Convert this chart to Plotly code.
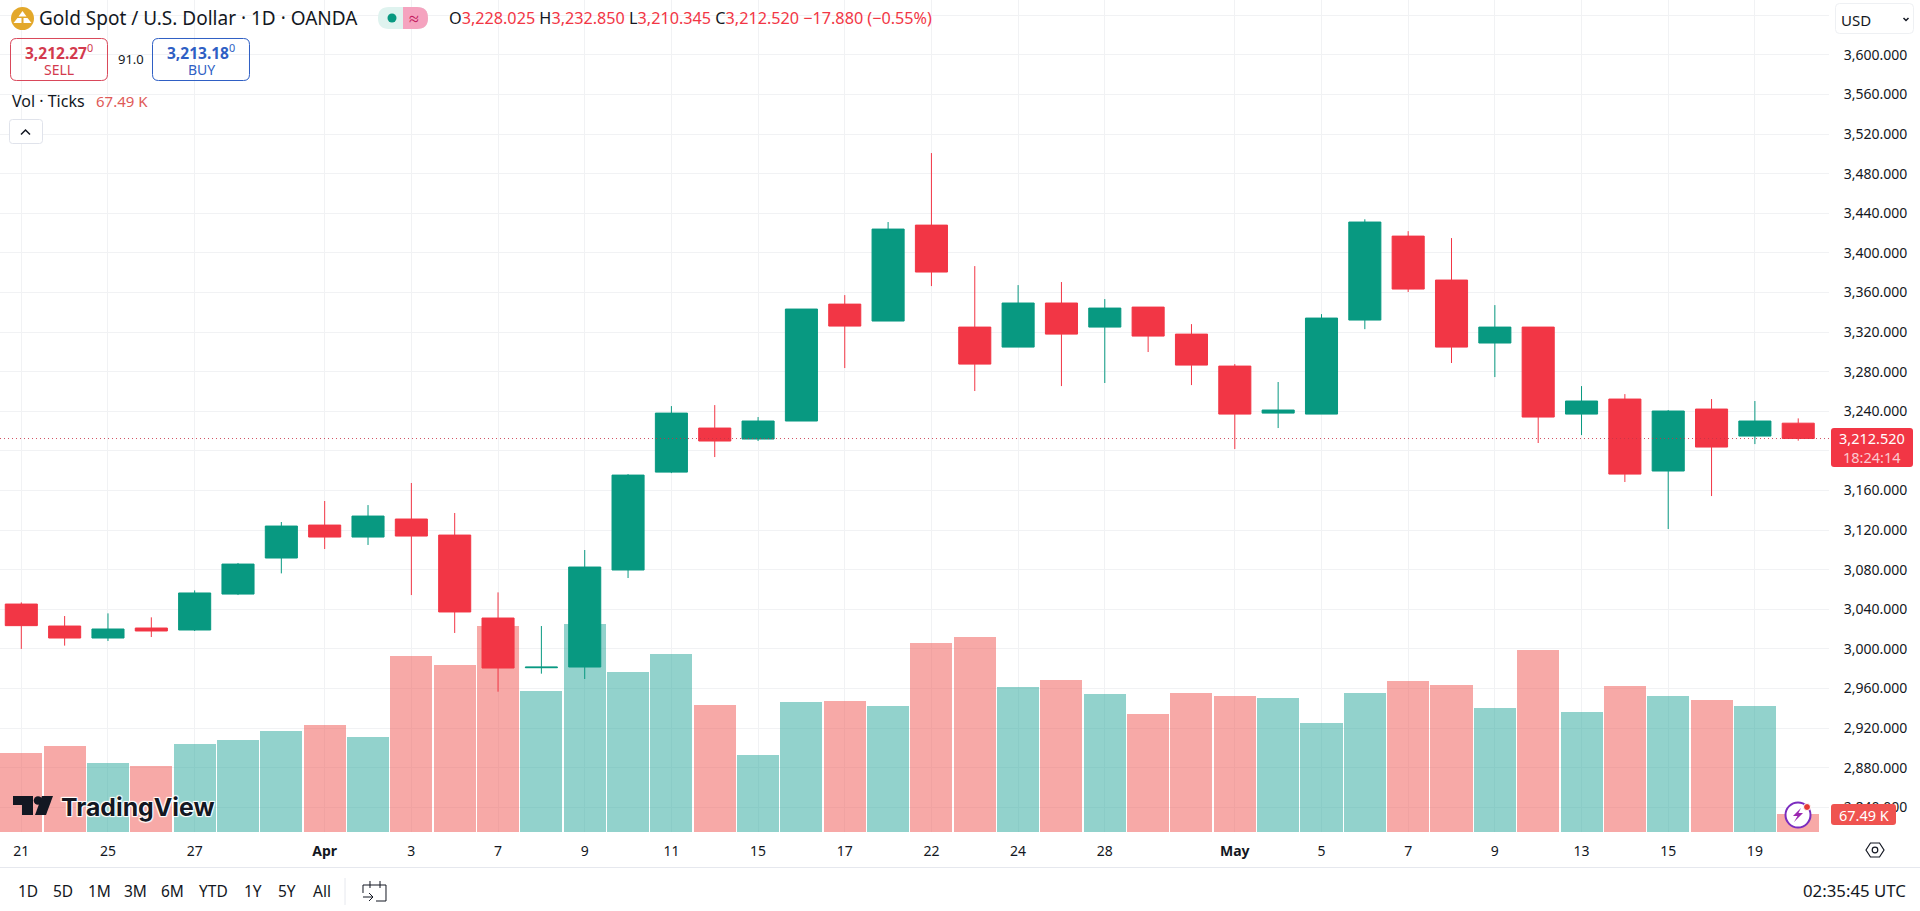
import re
import plotly.graph_objects as go

# ---------- data ----------
dates = ["Mar 21","Mar 24","Mar 25","Mar 26","Mar 27","Mar 28","Mar 31","Apr 1","Apr 2","Apr 3","Apr 4",
         "Apr 7","Apr 8","Apr 9","Apr 10","Apr 11","Apr 14","Apr 15","Apr 16","Apr 17","Apr 21","Apr 22",
         "Apr 23","Apr 24","Apr 25","Apr 28","Apr 29","Apr 30","May 1","May 2","May 5","May 6","May 7",
         "May 8","May 9","May 12","May 13","May 14","May 15","May 16","May 19","May 20"]
opens = [3045.3,3023.1,3011,3021.1,3019.1,3055.4,3091.8,3125.1,3113,3131.2,3115,3031.2,2981,2981.7,3079.7,
         3178.6,3223.1,3212,3230.2,3348.3,3331.2,3428.1,3325.1,3304.9,3349.4,3325.1,3345.3,3318,3285.7,
         3238.2,3237.2,3332.2,3417,3372.6,3309,3325.1,3237.2,3252.4,3179.7,3242.3,3215,3228.025]
highs = [3047,3033.2,3035.9,3031.9,3059.1,3086.8,3128.2,3149.4,3145.3,3167.6,3137.3,3057.1,3023.1,3099.9,
         3176.6,3245.3,3246.3,3234.2,3343.3,3357.4,3431.2,3500.9,3386.7,3367.5,3370.6,3353.4,3345.3,3328.1,
         3287.7,3269.6,3338.2,3434,3422,3415,3347.3,3325.1,3265.5,3257.4,3241.3,3252.4,3250.4,3232.85]
lows = [3000,3003.3,3008,3012,3018.1,3054.4,3076.3,3100.9,3105,3054.4,3016.1,2956.8,2975,2969.6,3071.6,
        3177.6,3193.8,3210,3230.2,3283.7,3331.2,3366.5,3260.5,3304.9,3265.5,3268.6,3299.9,3266.5,3201.9,
        3223.1,3237.2,3323,3360.5,3288.8,3274.6,3208,3216,3168.6,3121.1,3154.4,3206.9,3210.345]
closes = [3023.5,3011,3020.1,3018.1,3056.5,3085.7,3124.1,3113,3134.2,3114,3037.3,2980.7,2981.6,3082.7,3175.6,
          3238.2,3210,3230.2,3343.3,3326.1,3424.1,3380.7,3287.7,3349.4,3318,3344.3,3316,3286.7,3237.2,
          3241.3,3334.2,3431.2,3363.5,3304.9,3325.1,3234.2,3250.4,3176.6,3240.3,3203.9,3230.2,3212.52]
volumes_k = [298,321,257,248,331,344,377,400,358,660,626,773,529,780,600,667,478,289,487,491,473,709,731,
             542,569,519,441,523,510,501,409,523,565,551,464,684,450,546,510,496,473,67.49]
price_ticks = [2840+40*i for i in range(21)]
price_labels = ["" if p in (3640, 3200) else f"{p:,.3f}" for p in price_ticks]
date_tick_vals = ["Mar 21","Mar 25","Mar 27","Apr 1","Apr 3","Apr 7","Apr 9","Apr 11","Apr 15","Apr 17","Apr 22",
                  "Apr 24","Apr 28","May 1","May 5","May 7","May 9","May 13","May 15","May 19"]
date_tick_text = ["21","25","27","<b>Apr</b>","3","7","9","11","15","17","22","24","28","<b>May</b>","5","7","9","13","15","19"]
range_buttons = ["1D","5D","1M","3M","6M","YTD","1Y","5Y","All"]
range_button_x = [28,63,99,135,172,213,253,287,322]
last_price = closes[-1]

# ---------- style ----------
UP, DOWN = "#089981", "#F23645"
VUP, VDOWN = "rgba(38,166,154,0.5)", "rgba(239,83,80,0.5)"
GRID = "#f1f2f4"
FONT = "Noto Sans"
INK = "#131722"
W, H = 1920, 911
PW, PH = 1829, 832
px = lambda x: x / PW
py = lambda y: 1 - y / PH

fig = go.Figure()
fig.add_trace(go.Bar(x=dates, y=volumes_k, width=0.97,
                     marker=dict(color=[VDOWN if c < o else VUP for o, c in zip(opens, closes)], line_width=0),
                     yaxis="y", showlegend=False))
fig.add_trace(go.Candlestick(x=dates, open=opens, high=highs, low=lows, close=closes, yaxis="y2",
                             increasing=dict(line=dict(color=UP, width=1), fillcolor=UP),
                             decreasing=dict(line=dict(color=DOWN, width=1), fillcolor=DOWN),
                             whiskerwidth=0, showlegend=False))

ann, shp = [], []
def text(x, y, s, size=14, color=INK, anchor="left", family=FONT):
    ann.append(dict(xref="paper", yref="paper", x=px(x), y=py(y), text=s, showarrow=False, xanchor=anchor,
                    yanchor="middle", borderpad=0, font=dict(size=size, color=color, family=family)))
def path(p, line=None, fill=None, lw=1):
    toks = re.findall(r"[MLQZ]|-?[\d.]+", p)
    s, isx = "", True
    for t in toks:
        if t in "MLQZ":
            s += t; isx = True
        else:
            s += f"{px(float(t)) if isx else py(float(t)):.6f} "
            isx = not isx
    shp.append(dict(type="path", xref="paper", yref="paper", path=s, layer="above",
                    line=dict(color=line or "rgba(0,0,0,0)", width=lw if line else 0),
                    fillcolor=fill or "rgba(0,0,0,0)"))
def rrect(x0, y0, x1, y1, r, line=None, fill=None, lw=1):
    path(f"M{x0+r},{y0} L{x1-r},{y0} Q{x1},{y0} {x1},{y0+r} L{x1},{y1-r} Q{x1},{y1} {x1-r},{y1} "
         f"L{x0+r},{y1} Q{x0},{y1} {x0},{y1-r} L{x0},{y0+r} Q{x0},{y0} {x0+r},{y0} Z", line, fill, lw)
def circle(cx, cy, r, line=None, fill=None, lw=1):
    shp.append(dict(type="circle", xref="paper", yref="paper", x0=px(cx-r), x1=px(cx+r), y0=py(cy+r), y1=py(cy-r),
                    layer="above", line=dict(color=line or "rgba(0,0,0,0)", width=lw if line else 0),
                    fillcolor=fill or "rgba(0,0,0,0)"))

# last-price dotted line
shp.append(dict(type="line", xref="paper", yref="y2", x0=0, x1=1, y0=last_price, y1=last_price, layer="above",
                line=dict(color="rgba(200,50,70,0.85)", width=1, dash="1px,3px")))

path("M0,867.5 L1920,867.5", line="#e6e8ee")
path("M345,878 L345,905", line="#e6e8ee")

# header
circle(22.5, 18.5, 11.5, fill="#E3A82B")
path("M22.5,11 L26.5,16.5 L18.5,16.5 Z", fill="#ffffff")
path("M17.5,18 L21.5,18 L21.5,23 L13.5,23 Z", fill="#ffffff")
path("M23.5,18 L27.5,18 L31.5,23 L23.5,23 Z", fill="#ffffff")
text(38, 18.5, "Gold Spot / U.S. Dollar · 1D · OANDA", size=19)
rrect(378, 7, 428, 29, 11, fill="#DFF3EF")
path("M403,7 L417,7 Q428,7 428,18 Q428,29 417,29 L403,29 Z", fill="#F5A3BF")
circle(392, 18, 4.5, fill=UP)
text(414, 17.5, "≈", size=18, color="#C2185B", anchor="center")
v = lambda s: f"<span style='color:{DOWN}'>{s}</span>"
text(448, 18.5, f"O{v('3,228.025')} H{v('3,232.850')} L{v('3,210.345')} C{v('3,212.520')} {v('−17.880 (−0.55%)')}", size=16.2)

rrect(10.5, 38.5, 107.5, 80.5, 6, line="#D9475A")
text(59, 52, "<b>3,212.27</b><sup>0</sup>", size=15.5, color="#D33A4E", anchor="center")
text(59, 69.5, "SELL", size=14, color="#D33A4E", anchor="center")
text(130.5, 59, "91.0", size=13, anchor="center")
rrect(152.5, 38.5, 249.5, 80.5, 6, line="#2F5FC4")
text(201, 52, "<b>3,213.18</b><sup>0</sup>", size=15.5, color="#2F5FC4", anchor="center")
text(201, 69.5, "BUY", size=14, color="#2F5FC4", anchor="center")
text(11, 100.5, "Vol · Ticks", size=16)
text(95, 100.5, "67.49 K", size=15, color="#E05A58")
rrect(9.5, 119.5, 42.5, 143.5, 3, line="#e0e3eb", fill="#ffffff")
path("M21,134.5 L25.5,130 L30,134.5", line=INK, lw=1.5)

# USD selector
rrect(1835.5, 3.5, 1913.5, 33.5, 4, line="#eef0f3", fill="#ffffff")
text(1840, 20, "USD", size=15)
path("M1903.5,18 L1906,20.5 L1908.5,18", line=INK, lw=1.5)

# last-price tag
rrect(1831, 428, 1913, 467, 3, fill=DOWN)
text(1872, 438, "3,212.520", size=14.5, color="#ffffff", anchor="center")
text(1872, 457, "18:24:14", size=14.5, color="#FBC9CF", anchor="center")
# volume tag
rrect(1831, 804, 1896, 825, 3, fill="#EF5350")
text(1863.5, 814.5, "67.49 K", size=14.5, color="#ffffff", anchor="center")

# TradingView logo
path("M13,796 L33,796 L33,815 L22,815 L22,805 L13,805 Z", fill="#131722")
circle(38, 800.5, 4.3, fill="#131722")
path("M42,796 L53,796 L46,815 L35,815 Z", fill="#131722")
ann.append(dict(xref="paper", yref="paper", x=px(59.5), y=py(807), text="<b>TradingView</b>", showarrow=False, xanchor="left",
                yanchor="middle", borderpad=0, font=dict(size=24.8, color="#131722", family="Inter",
                shadow="1px 1px 1px #fff, -1px -1px 1px #fff, 1px -1px 1px #fff, -1px 1px 1px #fff")))

# lightning badge
circle(1798, 815, 12.5, line="#7B2CBF", fill="#ffffff", lw=2)
path("M1801,808 L1793,816 L1797.5,816 L1794,822 L1803,813 L1798.5,813 Z", fill="#9C27B0")
circle(1807, 807, 3.5, fill="#E53935", line="#ffffff", lw=1)

# settings hexagon
path("M1866,850 L1870.5,843 L1879.5,843 L1884,850 L1879.5,857 L1870.5,857 Z", line=INK, lw=1.2)
circle(1875, 850, 2.8, line=INK, lw=1.2)

# bottom toolbar
for lab, x in zip(range_buttons, range_button_x):
    text(x, 891, lab, size=15.5, anchor="center")
path("M363,893 L363,885 L386,885 L386,901 L376,901 M370,881 L370,888 M380,881 L380,888 M363,897 L373,897 M369,893 L373,897 L369,901",
     line=INK, lw=1)
text(1907, 891, "02:35:45 UTC", size=16.8, anchor="right")

fig.update_layout(
    width=W, height=H, autosize=False, margin=dict(l=0, r=W-PW, t=0, b=H-PH),
    paper_bgcolor="#ffffff", plot_bgcolor="#ffffff", font=dict(family=FONT, size=14, color=INK),
    bargap=0, boxmode="overlay", boxgap=0.26, boxgroupgap=0.0, showlegend=False, hovermode=False,
    xaxis=dict(type="category", range=[-0.4915, 41.71], categoryorder="array", categoryarray=dates,
               tickmode="array", tickvals=date_tick_vals, ticktext=date_tick_text, tickangle=0,
               showgrid=True, gridcolor=GRID, gridwidth=1, zeroline=False, showline=False,
               ticks="outside", ticklen=6, tickcolor="rgba(0,0,0,0)", tickfont=dict(size=14, color=INK),
               rangeslider=dict(visible=False), fixedrange=True),
    yaxis=dict(range=[0, 3120], showgrid=False, zeroline=False, showticklabels=False, showline=False, fixedrange=True),
    yaxis2=dict(overlaying="y", side="right", anchor="x", range=[2815.05, 3655.5], tickmode="array",
                tickvals=price_ticks, ticktext=price_labels, showgrid=True, gridcolor=GRID, gridwidth=1,
                zeroline=False, showline=False, ticks="outside", ticklen=11, tickcolor="rgba(0,0,0,0)",
                tickfont=dict(size=14, color=INK), fixedrange=True),
    annotations=ann, shapes=shp,
)
fig.write_html("out.html", config=dict(displayModeBar=False), post_script="document.body.style.margin='0';")
